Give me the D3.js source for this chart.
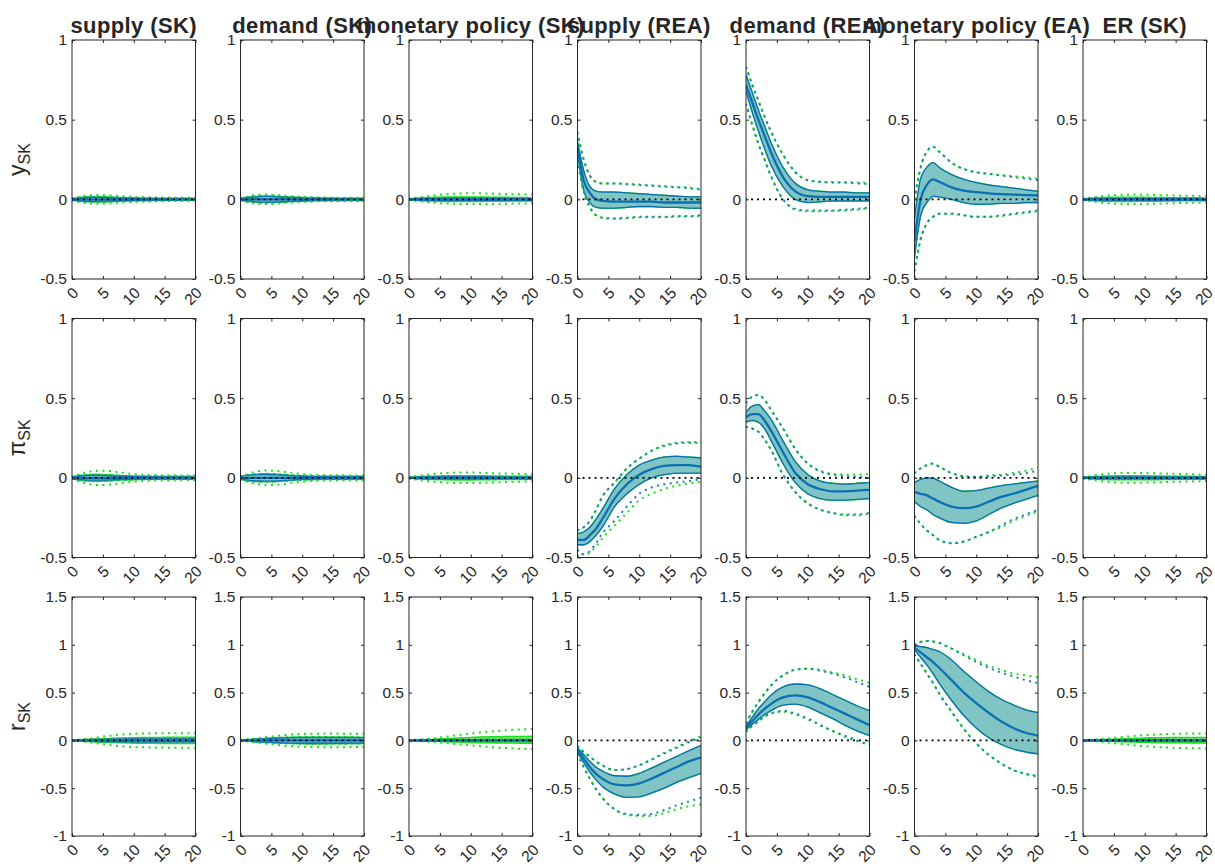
<!DOCTYPE html>
<html><head><meta charset="utf-8">
<script src="https://cdn.jsdelivr.net/npm/d3@7"></script>
<style>body{margin:0;background:#fff}svg{display:block}</style></head>
<body><svg id="c" width="1215" height="864"></svg>
<script>
// ---------------- data ----------------
const horizons = [0,1,2,3,4,6,8,10,12,14,16,18,20];
const shockTitles = ["supply (SK)","demand (SK)","monetary policy (SK)","supply (REA)","demand (REA)","monetary policy (EA)","ER (SK)"];
const varNames = [["y","SK"],["\u03C0","SK"],["r","SK"]];
const xTicks = [0,5,10,15,20];
const yTicksYP = [-0.5,0,0.5,1];
const yTickLabelsYP = ["-0.5","0","0.5","1"];
const yTicksR = [-1,-0.5,0,0.5,1,1.5];
const yTickLabelsR = ["-1","-0.5","0","0.5","1","1.5"];
const yDomainYP = [-0.5,1];
const yDomainR = [-1,1.5];
const zeros13 = [0,0,0,0,0,0,0,0,0,0,0,0,0];

// row 1: y_SK
const y_supSK = {m:zeros13,
 hi:[0.004,0.008,0.011,0.012,0.012,0.01,0.008,0.006,0.005,0.005,0.004,0.004,0.004],
 lo:[-0.004,-0.008,-0.011,-0.012,-0.012,-0.01,-0.008,-0.006,-0.005,-0.005,-0.004,-0.004,-0.004],
 hi2:[0.005,0.01,0.013,0.015,0.015,0.013,0.01,0.008,0.007,0.006,0.006,0.005,0.005],
 lo2:[-0.005,-0.01,-0.013,-0.015,-0.015,-0.013,-0.01,-0.008,-0.007,-0.006,-0.006,-0.005,-0.005],
 g:{m:zeros13,
  hi:[0.004,0.01,0.014,0.016,0.017,0.015,0.011,0.009,0.008,0.007,0.006,0.006,0.006],
  lo:[-0.004,-0.01,-0.014,-0.016,-0.017,-0.015,-0.011,-0.009,-0.008,-0.007,-0.006,-0.006,-0.006],
  hi2:[0.004,0.015,0.022,0.026,0.028,0.025,0.02,0.016,0.014,0.012,0.011,0.01,0.01],
  lo2:[-0.004,-0.015,-0.022,-0.026,-0.028,-0.025,-0.02,-0.016,-0.014,-0.012,-0.011,-0.01,-0.01]}};
const y_demSK = {m:zeros13,
 hi:[0.005,0.01,0.014,0.017,0.018,0.016,0.012,0.009,0.007,0.006,0.005,0.005,0.005],
 lo:[-0.005,-0.01,-0.014,-0.017,-0.018,-0.016,-0.012,-0.009,-0.007,-0.006,-0.005,-0.005,-0.005],
 hi2:[0.006,0.012,0.016,0.019,0.02,0.018,0.014,0.011,0.009,0.008,0.007,0.007,0.007],
 lo2:[-0.006,-0.012,-0.016,-0.019,-0.02,-0.018,-0.014,-0.011,-0.009,-0.008,-0.007,-0.007,-0.007],
 g:{m:zeros13,
  hi:[0.005,0.012,0.016,0.019,0.02,0.018,0.014,0.011,0.009,0.008,0.007,0.007,0.007],
  lo:[-0.005,-0.012,-0.016,-0.019,-0.02,-0.018,-0.014,-0.011,-0.009,-0.008,-0.007,-0.007,-0.007],
  hi2:[0.005,0.017,0.025,0.028,0.03,0.027,0.02,0.016,0.013,0.011,0.01,0.01,0.01],
  lo2:[-0.005,-0.017,-0.025,-0.028,-0.03,-0.027,-0.02,-0.016,-0.013,-0.011,-0.01,-0.01,-0.01]}};
const y_monSK = {m:zeros13,
 hi:[0.003,0.004,0.005,0.006,0.006,0.007,0.007,0.007,0.006,0.006,0.005,0.005,0.005],
 lo:[-0.003,-0.004,-0.005,-0.006,-0.006,-0.007,-0.007,-0.007,-0.006,-0.006,-0.005,-0.005,-0.005],
 hi2:[0.003,0.005,0.006,0.007,0.008,0.009,0.009,0.009,0.008,0.008,0.007,0.007,0.007],
 lo2:[-0.003,-0.005,-0.006,-0.007,-0.008,-0.009,-0.009,-0.009,-0.008,-0.008,-0.007,-0.007,-0.007],
 g:{m:zeros13,
  hi:[0.003,0.006,0.008,0.01,0.012,0.014,0.015,0.015,0.014,0.013,0.012,0.011,0.01],
  lo:[-0.003,-0.006,-0.008,-0.01,-0.011,-0.013,-0.014,-0.014,-0.013,-0.012,-0.011,-0.01,-0.01],
  hi2:[0.004,0.01,0.015,0.02,0.025,0.032,0.036,0.038,0.037,0.035,0.033,0.031,0.03],
  lo2:[-0.004,-0.009,-0.013,-0.017,-0.021,-0.026,-0.029,-0.03,-0.03,-0.029,-0.027,-0.026,-0.025]}};
const y_supREA = {
 m:[0.33,0.12,0.04,0.0,-0.01,-0.015,-0.015,-0.015,-0.015,-0.02,-0.02,-0.02,-0.02],
 hi:[0.36,0.18,0.08,0.05,0.045,0.045,0.04,0.035,0.03,0.025,0.02,0.015,0.015],
 lo:[0.30,0.06,-0.02,-0.05,-0.055,-0.055,-0.05,-0.045,-0.045,-0.05,-0.05,-0.055,-0.055],
 hi2:[0.42,0.25,0.15,0.11,0.10,0.10,0.095,0.09,0.085,0.08,0.075,0.07,0.06],
 lo2:[0.25,0.05,-0.05,-0.10,-0.115,-0.12,-0.115,-0.11,-0.11,-0.11,-0.105,-0.105,-0.10],
 g:{hi2:[0.42,0.25,0.15,0.11,0.10,0.10,0.097,0.093,0.088,0.083,0.078,0.073,0.065],
    lo2:[0.25,0.05,-0.05,-0.10,-0.115,-0.122,-0.118,-0.114,-0.112,-0.112,-0.11,-0.108,-0.105]}};
const y_demREA = {
 m:[0.72,0.61,0.50,0.40,0.30,0.14,0.05,0.02,0.015,0.015,0.015,0.015,0.015],
 hi:[0.78,0.67,0.56,0.46,0.36,0.20,0.10,0.06,0.05,0.045,0.045,0.04,0.04],
 lo:[0.68,0.55,0.43,0.32,0.22,0.08,0.0,-0.02,-0.015,-0.01,-0.01,-0.01,-0.01],
 hi2:[0.83,0.72,0.62,0.52,0.43,0.28,0.17,0.12,0.11,0.105,0.105,0.10,0.095],
 lo2:[0.60,0.47,0.35,0.25,0.15,0.0,-0.06,-0.07,-0.07,-0.07,-0.065,-0.06,-0.05],
 g:{hi2:[0.83,0.72,0.62,0.52,0.43,0.28,0.17,0.12,0.11,0.108,0.108,0.105,0.105],
    lo2:[0.60,0.47,0.35,0.25,0.15,0.0,-0.065,-0.075,-0.075,-0.073,-0.07,-0.065,-0.055]}};
const y_monEA = {
 m:[-0.26,0.0,0.09,0.125,0.11,0.075,0.055,0.045,0.038,0.033,0.03,0.027,0.025],
 hi:[-0.12,0.13,0.2,0.23,0.2,0.155,0.125,0.105,0.09,0.08,0.07,0.06,0.05],
 lo:[-0.36,-0.1,-0.02,0.02,0.015,0.0,-0.02,-0.03,-0.03,-0.025,-0.025,-0.02,-0.02],
 hi2:[0.0,0.2,0.3,0.33,0.3,0.23,0.19,0.17,0.16,0.15,0.14,0.13,0.12],
 lo2:[-0.45,-0.25,-0.15,-0.11,-0.09,-0.09,-0.1,-0.11,-0.11,-0.1,-0.09,-0.08,-0.07],
 g:{hi2:[0.0,0.2,0.3,0.33,0.3,0.23,0.19,0.17,0.16,0.152,0.145,0.138,0.13],
    lo2:[-0.45,-0.25,-0.15,-0.11,-0.09,-0.09,-0.1,-0.11,-0.11,-0.105,-0.095,-0.085,-0.075]}};
const y_ER = {m:zeros13,
 hi:[0.003,0.004,0.005,0.005,0.005,0.005,0.005,0.005,0.005,0.005,0.005,0.005,0.005],
 lo:[-0.003,-0.004,-0.005,-0.005,-0.005,-0.005,-0.005,-0.005,-0.005,-0.005,-0.005,-0.005,-0.005],
 hi2:[0.003,0.005,0.006,0.007,0.007,0.007,0.007,0.007,0.007,0.007,0.006,0.006,0.006],
 lo2:[-0.003,-0.005,-0.006,-0.007,-0.007,-0.007,-0.007,-0.007,-0.007,-0.007,-0.006,-0.006,-0.006],
 g:{m:zeros13,
  hi:[0.003,0.006,0.009,0.011,0.012,0.013,0.013,0.012,0.011,0.01,0.009,0.009,0.008],
  lo:[-0.003,-0.006,-0.009,-0.011,-0.012,-0.013,-0.013,-0.012,-0.011,-0.01,-0.009,-0.009,-0.008],
  hi2:[0.004,0.01,0.015,0.02,0.024,0.028,0.03,0.029,0.027,0.025,0.023,0.022,0.02],
  lo2:[-0.004,-0.01,-0.015,-0.02,-0.024,-0.028,-0.03,-0.029,-0.027,-0.025,-0.023,-0.022,-0.02]}};

// row 2: pi_SK
const p_supSK = {m:zeros13,
 hi:[0.006,0.01,0.013,0.015,0.015,0.013,0.01,0.008,0.007,0.006,0.006,0.006,0.006],
 lo:[-0.006,-0.01,-0.013,-0.015,-0.015,-0.013,-0.01,-0.008,-0.007,-0.006,-0.006,-0.006,-0.006],
 hi2:[0.007,0.012,0.016,0.018,0.018,0.016,0.012,0.01,0.009,0.008,0.008,0.008,0.008],
 lo2:[-0.007,-0.012,-0.016,-0.018,-0.018,-0.016,-0.012,-0.01,-0.009,-0.008,-0.008,-0.008,-0.008],
 g:{m:zeros13,
  hi:[0.006,0.013,0.018,0.021,0.022,0.019,0.014,0.011,0.009,0.008,0.008,0.008,0.008],
  lo:[-0.006,-0.013,-0.018,-0.021,-0.022,-0.019,-0.014,-0.011,-0.009,-0.008,-0.008,-0.008,-0.008],
  hi2:[0.006,0.02,0.032,0.04,0.045,0.043,0.033,0.024,0.019,0.017,0.016,0.015,0.015],
  lo2:[-0.006,-0.02,-0.032,-0.04,-0.045,-0.043,-0.033,-0.024,-0.019,-0.017,-0.016,-0.015,-0.015]}};
const p_demSK = {m:zeros13,
 hi:[0.008,0.014,0.018,0.02,0.021,0.019,0.014,0.01,0.008,0.007,0.007,0.007,0.007],
 lo:[-0.008,-0.014,-0.018,-0.02,-0.021,-0.019,-0.014,-0.01,-0.008,-0.007,-0.007,-0.007,-0.007],
 hi2:[0.009,0.016,0.021,0.024,0.025,0.022,0.017,0.012,0.01,0.009,0.009,0.009,0.009],
 lo2:[-0.009,-0.016,-0.021,-0.024,-0.025,-0.022,-0.017,-0.012,-0.01,-0.009,-0.009,-0.009,-0.009],
 g:{m:zeros13,
  hi:[0.008,0.016,0.021,0.024,0.025,0.022,0.016,0.012,0.01,0.009,0.009,0.009,0.009],
  lo:[-0.008,-0.016,-0.021,-0.024,-0.025,-0.022,-0.016,-0.012,-0.01,-0.009,-0.009,-0.009,-0.009],
  hi2:[0.008,0.022,0.034,0.042,0.046,0.043,0.033,0.024,0.019,0.017,0.016,0.015,0.015],
  lo2:[-0.008,-0.022,-0.034,-0.042,-0.046,-0.043,-0.033,-0.024,-0.019,-0.017,-0.016,-0.015,-0.015]}};
const p_monSK = {m:zeros13,
 hi:[0.003,0.004,0.005,0.006,0.006,0.006,0.006,0.006,0.006,0.005,0.005,0.005,0.005],
 lo:[-0.003,-0.004,-0.005,-0.006,-0.006,-0.006,-0.006,-0.006,-0.006,-0.005,-0.005,-0.005,-0.005],
 hi2:[0.003,0.005,0.006,0.007,0.007,0.008,0.008,0.008,0.008,0.007,0.007,0.007,0.007],
 lo2:[-0.003,-0.005,-0.006,-0.007,-0.007,-0.008,-0.008,-0.008,-0.008,-0.007,-0.007,-0.007,-0.007],
 g:{m:zeros13,
  hi:[0.003,0.005,0.007,0.009,0.01,0.012,0.013,0.013,0.012,0.011,0.01,0.01,0.009],
  lo:[-0.003,-0.005,-0.007,-0.009,-0.01,-0.012,-0.013,-0.013,-0.012,-0.011,-0.01,-0.01,-0.009],
  hi2:[0.004,0.01,0.015,0.02,0.024,0.03,0.033,0.033,0.031,0.028,0.026,0.024,0.022],
  lo2:[-0.004,-0.01,-0.015,-0.02,-0.024,-0.03,-0.033,-0.033,-0.031,-0.028,-0.026,-0.024,-0.022]}};
const p_supREA = {
 m:[-0.39,-0.39,-0.36,-0.32,-0.26,-0.13,-0.04,0.02,0.055,0.075,0.08,0.08,0.07],
 hi:[-0.35,-0.34,-0.31,-0.26,-0.2,-0.07,0.02,0.08,0.11,0.13,0.135,0.13,0.125],
 lo:[-0.42,-0.42,-0.4,-0.36,-0.31,-0.18,-0.1,-0.04,0.0,0.02,0.03,0.03,0.03],
 hi2:[-0.33,-0.31,-0.27,-0.2,-0.12,-0.03,0.06,0.12,0.17,0.2,0.215,0.22,0.22],
 lo2:[-0.45,-0.48,-0.46,-0.41,-0.35,-0.27,-0.18,-0.1,-0.06,-0.04,-0.03,-0.02,-0.01],
 g:{hi2:[-0.33,-0.31,-0.27,-0.2,-0.12,-0.03,0.06,0.12,0.17,0.205,0.22,0.225,0.225],
    lo2:[-0.45,-0.48,-0.47,-0.43,-0.38,-0.3,-0.22,-0.14,-0.1,-0.07,-0.05,-0.035,-0.025]}};
const p_demREA = {
 m:[0.38,0.40,0.40,0.36,0.30,0.16,0.03,-0.04,-0.07,-0.085,-0.085,-0.08,-0.075],
 hi:[0.41,0.45,0.46,0.42,0.37,0.23,0.10,0.02,-0.02,-0.035,-0.04,-0.035,-0.03],
 lo:[0.35,0.36,0.35,0.31,0.24,0.09,-0.03,-0.1,-0.13,-0.14,-0.14,-0.135,-0.13],
 hi2:[0.47,0.51,0.52,0.49,0.43,0.31,0.18,0.09,0.04,0.02,0.01,0.005,0.0],
 lo2:[0.32,0.31,0.29,0.24,0.18,0.02,-0.09,-0.16,-0.2,-0.22,-0.23,-0.23,-0.22],
 g:{hi2:[0.47,0.51,0.52,0.49,0.43,0.31,0.18,0.09,0.045,0.025,0.02,0.02,0.025],
    lo2:[0.32,0.31,0.29,0.24,0.18,0.02,-0.09,-0.16,-0.2,-0.22,-0.235,-0.235,-0.225]}};
const p_monEA = {
 m:[-0.09,-0.1,-0.11,-0.13,-0.15,-0.18,-0.19,-0.18,-0.15,-0.12,-0.1,-0.075,-0.05],
 hi:[-0.03,-0.01,0.0,-0.003,-0.02,-0.06,-0.085,-0.08,-0.065,-0.05,-0.04,-0.03,-0.02],
 lo:[-0.15,-0.18,-0.2,-0.23,-0.25,-0.28,-0.285,-0.27,-0.23,-0.19,-0.16,-0.135,-0.11],
 hi2:[0.03,0.06,0.08,0.09,0.07,0.03,0.01,0.005,0.01,0.015,0.02,0.03,0.045],
 lo2:[-0.24,-0.29,-0.33,-0.36,-0.39,-0.41,-0.4,-0.37,-0.34,-0.3,-0.26,-0.23,-0.2],
 g:{hi2:[0.03,0.06,0.08,0.09,0.07,0.03,0.01,0.008,0.015,0.02,0.03,0.045,0.065],
    lo2:[-0.24,-0.29,-0.33,-0.36,-0.39,-0.41,-0.4,-0.37,-0.34,-0.31,-0.27,-0.24,-0.21]}};
const p_ER = {m:zeros13,
 hi:[0.003,0.004,0.005,0.005,0.005,0.005,0.005,0.005,0.005,0.005,0.005,0.005,0.005],
 lo:[-0.003,-0.004,-0.005,-0.005,-0.005,-0.005,-0.005,-0.005,-0.005,-0.005,-0.005,-0.005,-0.005],
 hi2:[0.003,0.005,0.006,0.007,0.007,0.007,0.007,0.007,0.007,0.007,0.006,0.006,0.006],
 lo2:[-0.003,-0.005,-0.006,-0.007,-0.007,-0.007,-0.007,-0.007,-0.007,-0.007,-0.006,-0.006,-0.006],
 g:{m:zeros13,
  hi:[0.003,0.006,0.008,0.01,0.011,0.012,0.012,0.012,0.011,0.01,0.009,0.009,0.008],
  lo:[-0.003,-0.006,-0.008,-0.01,-0.011,-0.012,-0.012,-0.012,-0.011,-0.01,-0.009,-0.009,-0.008],
  hi2:[0.004,0.01,0.016,0.021,0.025,0.03,0.031,0.03,0.028,0.026,0.024,0.022,0.02],
  lo2:[-0.004,-0.01,-0.016,-0.021,-0.025,-0.03,-0.031,-0.03,-0.028,-0.026,-0.024,-0.022,-0.02]}};

// row 3: r_SK
const r_supSK = {m:zeros13,
 hi:[0.003,0.004,0.006,0.008,0.01,0.012,0.014,0.015,0.015,0.015,0.015,0.015,0.015],
 lo:[-0.003,-0.004,-0.006,-0.008,-0.01,-0.012,-0.014,-0.015,-0.015,-0.015,-0.015,-0.015,-0.015],
 hi2:[0.003,0.005,0.007,0.009,0.011,0.014,0.016,0.017,0.017,0.017,0.017,0.017,0.017],
 lo2:[-0.003,-0.005,-0.007,-0.009,-0.011,-0.014,-0.016,-0.017,-0.017,-0.017,-0.017,-0.017,-0.017],
 g:{m:zeros13,
  hi:[0.003,0.006,0.009,0.012,0.015,0.02,0.025,0.028,0.03,0.031,0.032,0.032,0.032],
  lo:[-0.003,-0.006,-0.009,-0.012,-0.015,-0.02,-0.025,-0.028,-0.03,-0.031,-0.032,-0.032,-0.032],
  hi2:[0.004,0.008,0.013,0.02,0.03,0.048,0.062,0.07,0.073,0.075,0.076,0.076,0.076],
  lo2:[-0.004,-0.008,-0.013,-0.02,-0.03,-0.048,-0.062,-0.07,-0.073,-0.075,-0.076,-0.076,-0.076]}};
const r_demSK = {m:zeros13,
 hi:[0.003,0.006,0.01,0.014,0.018,0.024,0.028,0.03,0.03,0.03,0.03,0.029,0.028],
 lo:[-0.003,-0.006,-0.01,-0.014,-0.018,-0.024,-0.028,-0.03,-0.03,-0.03,-0.03,-0.029,-0.028],
 hi2:[0.003,0.007,0.011,0.015,0.02,0.026,0.03,0.032,0.032,0.032,0.032,0.031,0.03],
 lo2:[-0.003,-0.007,-0.011,-0.015,-0.02,-0.026,-0.03,-0.032,-0.032,-0.032,-0.032,-0.031,-0.03],
 g:{m:zeros13,
  hi:[0.003,0.007,0.012,0.016,0.02,0.027,0.032,0.035,0.036,0.036,0.035,0.034,0.033],
  lo:[-0.003,-0.007,-0.012,-0.016,-0.02,-0.027,-0.032,-0.035,-0.036,-0.036,-0.035,-0.034,-0.033],
  hi2:[0.004,0.01,0.017,0.025,0.033,0.048,0.06,0.067,0.07,0.071,0.071,0.07,0.07],
  lo2:[-0.004,-0.01,-0.017,-0.025,-0.033,-0.048,-0.06,-0.067,-0.07,-0.071,-0.071,-0.07,-0.07]}};
const r_monSK = {m:zeros13,
 hi:[0.003,0.004,0.005,0.005,0.005,0.006,0.006,0.006,0.006,0.006,0.006,0.006,0.006],
 lo:[-0.003,-0.004,-0.005,-0.005,-0.005,-0.006,-0.006,-0.006,-0.006,-0.006,-0.006,-0.006,-0.006],
 hi2:[0.003,0.005,0.006,0.006,0.006,0.007,0.007,0.007,0.007,0.007,0.007,0.007,0.007],
 lo2:[-0.003,-0.005,-0.006,-0.006,-0.006,-0.007,-0.007,-0.007,-0.007,-0.007,-0.007,-0.007,-0.007],
 g:{m:[0,0,0,0.001,0.002,0.003,0.004,0.005,0.006,0.007,0.007,0.008,0.008],
  hi:[0.002,0.003,0.005,0.008,0.011,0.018,0.025,0.031,0.035,0.038,0.04,0.041,0.042],
  lo:[-0.002,-0.003,-0.005,-0.007,-0.009,-0.013,-0.017,-0.021,-0.024,-0.026,-0.027,-0.028,-0.028],
  hi2:[0.003,0.006,0.01,0.015,0.022,0.038,0.055,0.072,0.085,0.097,0.107,0.114,0.12],
  lo2:[-0.003,-0.005,-0.008,-0.012,-0.017,-0.028,-0.04,-0.052,-0.063,-0.073,-0.081,-0.087,-0.09]}};
const r_supREA = {
 m:[-0.1,-0.19,-0.28,-0.35,-0.4,-0.46,-0.47,-0.45,-0.4,-0.34,-0.28,-0.22,-0.18],
 hi:[-0.08,-0.15,-0.22,-0.28,-0.32,-0.37,-0.375,-0.345,-0.29,-0.23,-0.17,-0.11,-0.055],
 lo:[-0.12,-0.23,-0.33,-0.41,-0.48,-0.56,-0.595,-0.59,-0.55,-0.5,-0.44,-0.39,-0.345],
 hi2:[-0.06,-0.12,-0.17,-0.22,-0.26,-0.31,-0.3,-0.26,-0.2,-0.14,-0.08,-0.02,0.03],
 lo2:[-0.14,-0.28,-0.4,-0.51,-0.6,-0.72,-0.77,-0.78,-0.77,-0.73,-0.68,-0.64,-0.6],
 g:{hi2:[-0.06,-0.12,-0.17,-0.22,-0.26,-0.31,-0.3,-0.26,-0.2,-0.13,-0.07,-0.01,0.045],
    lo2:[-0.14,-0.28,-0.4,-0.51,-0.6,-0.72,-0.78,-0.79,-0.79,-0.76,-0.72,-0.69,-0.67]}};
const r_demREA = {
 m:[0.13,0.2,0.27,0.33,0.38,0.45,0.47,0.45,0.4,0.34,0.28,0.22,0.16],
 hi:[0.15,0.24,0.33,0.4,0.47,0.56,0.59,0.58,0.54,0.48,0.42,0.36,0.31],
 lo:[0.11,0.17,0.22,0.27,0.31,0.37,0.38,0.35,0.29,0.23,0.16,0.1,0.05],
 hi2:[0.18,0.3,0.4,0.49,0.57,0.68,0.74,0.75,0.73,0.7,0.66,0.61,0.56],
 lo2:[0.09,0.15,0.2,0.25,0.28,0.31,0.28,0.23,0.16,0.1,0.05,0.0,-0.05],
 g:{hi2:[0.18,0.3,0.4,0.49,0.57,0.68,0.74,0.75,0.74,0.71,0.68,0.64,0.6],
    lo2:[0.09,0.15,0.2,0.25,0.28,0.3,0.27,0.22,0.16,0.1,0.04,-0.01,-0.04]}};
const r_monEA = {
 m:[0.97,0.92,0.87,0.82,0.76,0.63,0.5,0.39,0.29,0.2,0.13,0.08,0.05],
 hi:[0.99,0.98,0.97,0.95,0.93,0.84,0.72,0.61,0.51,0.43,0.37,0.32,0.29],
 lo:[0.95,0.87,0.79,0.7,0.6,0.42,0.26,0.13,0.03,-0.04,-0.09,-0.12,-0.14],
 hi2:[1.0,1.03,1.04,1.035,1.02,0.96,0.89,0.82,0.76,0.71,0.67,0.63,0.6],
 lo2:[0.9,0.8,0.7,0.6,0.49,0.3,0.12,-0.03,-0.15,-0.24,-0.31,-0.35,-0.38],
 g:{hi2:[1.0,1.03,1.04,1.035,1.02,0.96,0.9,0.84,0.78,0.74,0.7,0.68,0.66],
    lo2:[0.9,0.8,0.7,0.6,0.49,0.3,0.12,-0.03,-0.15,-0.24,-0.31,-0.35,-0.37]}};
const r_ER = {m:zeros13,
 hi:[0.003,0.004,0.005,0.005,0.005,0.006,0.006,0.006,0.006,0.006,0.006,0.006,0.006],
 lo:[-0.003,-0.004,-0.005,-0.005,-0.005,-0.006,-0.006,-0.006,-0.006,-0.006,-0.006,-0.006,-0.006],
 hi2:[0.003,0.005,0.006,0.006,0.006,0.007,0.007,0.007,0.007,0.007,0.007,0.007,0.007],
 lo2:[-0.003,-0.005,-0.006,-0.006,-0.006,-0.007,-0.007,-0.007,-0.007,-0.007,-0.007,-0.007,-0.007],
 g:{m:[0,0,0,0.001,0.001,0.002,0.003,0.003,0.004,0.004,0.004,0.004,0.004],
  hi:[0.002,0.004,0.006,0.008,0.01,0.015,0.02,0.024,0.027,0.029,0.03,0.031,0.031],
  lo:[-0.002,-0.003,-0.005,-0.007,-0.009,-0.013,-0.017,-0.02,-0.022,-0.024,-0.025,-0.026,-0.026],
  hi2:[0.003,0.006,0.01,0.015,0.02,0.033,0.045,0.055,0.062,0.067,0.07,0.072,0.073],
  lo2:[-0.003,-0.006,-0.01,-0.016,-0.022,-0.036,-0.05,-0.062,-0.07,-0.076,-0.08,-0.082,-0.084]}};

const panelRows = [
  [y_supSK, y_demSK, y_monSK, y_supREA, y_demREA, y_monEA, y_ER],
  [p_supSK, p_demSK, p_monSK, p_supREA, p_demREA, p_monEA, p_ER],
  [r_supSK, r_demSK, r_monSK, r_supREA, r_demREA, r_monEA, r_ER]
];

// ---------------- layout & style ----------------
const left0 = 72, colStep = 168.5, pw = 123.5;
const top0 = 40, rowStep = 278.5, ph = 239;
const FONT = "'Liberation Sans', Arial, Helvetica, sans-serif";
const AX = "#262626";
const TEAL = "#80c4c4", BLUE = "#0a6fb3", GREEN = "#19e019", LGREEN = "#88e388", DOTBLUE = "#1a7fb8";

const svg = d3.select("#c");
const x = d3.scaleLinear().domain([0, 20]).range([0, pw]);

panelRows.forEach((row, ri) => {
  const yDom = ri < 2 ? yDomainYP : yDomainR;
  const yT = ri < 2 ? yTicksYP : yTicksR;
  const yL = ri < 2 ? yTickLabelsYP : yTickLabelsR;
  const y = d3.scaleLinear().domain(yDom).range([ph, 0]);
  const line = d3.line().x((d, i) => x(horizons[i])).y(d => y(d)).curve(d3.curveMonotoneX);
  const areaOf = (lo, hi) => d3.area().x((d, i) => x(horizons[i])).y0((d, i) => y(lo[i])).y1((d, i) => y(hi[i])).curve(d3.curveMonotoneX)(lo);

  row.forEach((P, ci) => {
    const G = Object.assign({m: P.m, lo: P.lo, hi: P.hi, lo2: P.lo2, hi2: P.hi2}, P.g || {});
    const gx = left0 + ci * colStep, gy = top0 + ri * rowStep;
    const g = svg.append("g").attr("transform", `translate(${gx},${gy})`);
    const cid = `clip${ri}_${ci}`;
    g.append("clipPath").attr("id", cid).append("rect").attr("width", pw).attr("height", ph);
    const plot = g.append("g").attr("clip-path", `url(#${cid})`);

    // model B (green)
    plot.append("path").attr("d", areaOf(G.lo, G.hi)).attr("fill", LGREEN);
    [G.lo, G.hi].forEach(s => plot.append("path").attr("d", line(s)).attr("fill", "none").attr("stroke", GREEN).attr("stroke-width", 1.6));
    plot.append("path").attr("d", line(G.m)).attr("fill", "none").attr("stroke", GREEN).attr("stroke-width", 2);
    // model A (teal/blue)
    plot.append("path").attr("d", areaOf(P.lo, P.hi)).attr("fill", TEAL);
    [P.lo, P.hi].forEach(s => plot.append("path").attr("d", line(s)).attr("fill", "none").attr("stroke", BLUE).attr("stroke-width", 1.3));
    plot.append("path").attr("d", line(P.m)).attr("fill", "none").attr("stroke", BLUE).attr("stroke-width", 2.3);
    // outer dotted bands
    [G.lo2, G.hi2].forEach(s => plot.append("path").attr("d", line(s)).attr("fill", "none")
      .attr("stroke", GREEN).attr("stroke-width", 2).attr("stroke-dasharray", "2,4.5").attr("stroke-dashoffset", 1.2));
    [P.lo2, P.hi2].forEach(s => plot.append("path").attr("d", line(s)).attr("fill", "none")
      .attr("stroke", DOTBLUE).attr("stroke-width", 2).attr("stroke-dasharray", "2,4.5"));
    // zero line
    plot.append("line").attr("x1", 0).attr("x2", pw).attr("y1", y(0)).attr("y2", y(0))
      .attr("stroke", "#000").attr("stroke-width", 1.6).attr("stroke-dasharray", "2,4").attr("stroke-dashoffset", 1);

    // axes
    const ax = g.append("g").attr("font-family", FONT);
    ax.append("g").call(d3.axisLeft(y).tickValues(yT).tickSize(-3).tickPadding(5).tickFormat((d, i) => yL[i]));
    ax.append("g").attr("transform", `translate(${pw},0)`).call(d3.axisRight(y).tickValues(yT).tickSize(-3).tickFormat(""));
    ax.append("g").call(d3.axisTop(x).tickValues(xTicks).tickSize(-3).tickFormat(""));
    const xb = ax.append("g").attr("transform", `translate(0,${ph})`).call(d3.axisBottom(x).tickValues(xTicks).tickSize(-3).tickFormat(d => String(d)));
    ax.selectAll(".domain").remove();
    ax.selectAll(".tick line").attr("stroke", AX);
    ax.selectAll("text").attr("fill", AX).attr("font-size", "15.5px");
    xb.selectAll("text").attr("x", 0).attr("y", 0).attr("dy", "0.35em")
      .attr("text-anchor", "end").attr("transform", "translate(3,11) rotate(-45)");
    g.append("rect").attr("width", pw).attr("height", ph).attr("fill", "none").attr("stroke", AX).attr("stroke-width", 1);
  });

  // row label
  const [v, sub] = varNames[ri];
  const t = svg.append("text").attr("transform", `translate(25,${top0 + ri * rowStep + ph / 2}) rotate(-90)`)
    .attr("text-anchor", "middle").attr("font-family", FONT).attr("fill", AX).attr("font-size", "23px");
  t.append("tspan").text(v);
  t.append("tspan").attr("dy", 5).attr("font-size", "16px").text(sub);
});

// titles
shockTitles.forEach((s, ci) => {
  svg.append("text").attr("x", left0 + ci * colStep + pw / 2).attr("y", 33)
    .attr("text-anchor", "middle").attr("font-family", FONT).attr("font-weight", "bold")
    .attr("font-size", "22px").attr("letter-spacing", "0.4px").attr("fill", AX).text(s);
});
</script>
</body></html>
